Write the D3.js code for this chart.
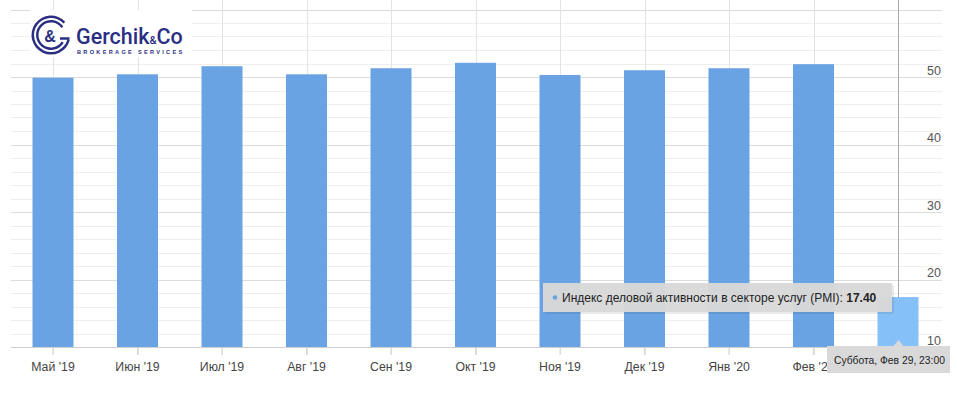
<!DOCTYPE html>
<html>
<head>
<meta charset="utf-8">
<script src="https://d3js.org/d3.v7.min.js"></script>
<style>
  body { margin: 0; background: #fff; }
  svg { display: block; font-family: "Liberation Sans", Arial, Helvetica, sans-serif; }
</style>
</head>
<body>
<svg id="chart" width="957" height="394"></svg>
<script>
// data
const months = ["Май '19", "Июн '19", "Июл '19", "Авг '19", "Сен '19", "Окт '19",
                "Ноя '19", "Дек '19", "Янв '20", "Фев '20", "Мар '20"];
const monthLabels = ["Май '19", "Июн '19", "Июл '19", "Авг '19", "Сен '19", "Окт '19",
                     "Ноя '19", "Дек '19", "Янв '20", "Фев '20", ""];
const pmi = [49.9, 50.4, 51.6, 50.4, 51.3, 52.1, 50.3, 51.0, 51.3, 51.9, 17.4];
const yTicks = [10, 20, 30, 40, 50];
const seriesName = "Индекс деловой активности в секторе услуг (PMI)";
const hoverDate = "Суббота, Фев 29, 23:00";

const svg = d3.select("#chart");
const plotLeft = 10.75, plotRight = 940.25, plotTop = 9.5, plotBottom = 347;

const x = d3.scaleBand().domain(months).range([plotLeft, plotRight])
  .paddingInner(0.515).paddingOuter(0.2575);
const y = d3.scaleLinear().domain([10, 60]).range([plotBottom, plotTop]);

// horizontal grid: minor every 2, major every 10
const minor = d3.range(12, 61, 2).filter(v => v % 10 !== 0);
svg.append("g").selectAll("line").data(minor).join("line")
  .attr("x1", plotLeft).attr("x2", 942)
  .attr("y1", d => Math.round(y(d)) + 0.5).attr("y2", d => Math.round(y(d)) + 0.5)
  .attr("stroke", "#eeeeee");
svg.append("g").selectAll("line").data([20, 30, 40, 50, 60]).join("line")
  .attr("x1", plotLeft).attr("x2", 942)
  .attr("y1", d => Math.round(y(d)) + 0.5).attr("y2", d => Math.round(y(d)) + 0.5)
  .attr("stroke", "#dcdcdc");

// vertical grid at each month
svg.append("g").selectAll("line").data(months.slice(0, -1)).join("line")
  .attr("x1", d => Math.round(x(d) + x.bandwidth() / 2) + 0.5)
  .attr("x2", d => Math.round(x(d) + x.bandwidth() / 2) + 0.5)
  .attr("y1", 0).attr("y2", plotBottom + 8)
  .attr("stroke", "#e3e3e3");

// logo background
svg.append("rect").attr("x", 30).attr("y", 10).attr("width", 162).attr("height", 47).attr("fill", "#fff");

// bars
svg.append("g").selectAll("rect").data(pmi).join("rect")
  .attr("x", (d, i) => x(months[i]))
  .attr("width", x.bandwidth())
  .attr("y", d => y(d))
  .attr("height", d => plotBottom - y(d))
  .attr("fill", (d, i) => i === pmi.length - 1 ? "#86c0f8" : "#6aa3e3");

// x axis
const xAxis = svg.append("g").attr("transform", `translate(0,${plotBottom})`)
  .call(d3.axisBottom(x).tickSize(8).tickSizeOuter(0).tickFormat((d, i) => monthLabels[i]));
xAxis.select(".domain").remove();
xAxis.selectAll(".tick line").attr("stroke", "#d6d6d6");
xAxis.selectAll(".tick text").attr("fill", "#444").style("font-size", "12.3px").attr("dy", "1.05em");
svg.append("line").attr("x1", plotLeft).attr("x2", 942)
  .attr("y1", plotBottom + 0.5).attr("y2", plotBottom + 0.5).attr("stroke", "#cfcfcf");

// y axis labels on the right, above their lines
svg.append("g").selectAll("text").data(yTicks).join("text")
  .attr("x", 941).attr("y", d => y(d) - 2.5)
  .attr("text-anchor", "end").attr("fill", "#555").style("font-size", "12.5px")
  .text(d => d);

// crosshair on hovered bar
const last = months[months.length - 1];
const cx = Math.round(x(last) + x.bandwidth() / 2) + 0.5;
svg.append("line").attr("x1", cx).attr("x2", cx).attr("y1", 0).attr("y2", y(pmi[pmi.length - 1]))
  .attr("stroke", "#a8a8a8");

// series tooltip
const tip = svg.append("g");
tip.append("rect").attr("x", 545).attr("y", 285).attr("width", 349).attr("height", 29)
  .attr("fill", "rgba(0,0,0,0.08)");
tip.append("rect").attr("x", 543).attr("y", 283).attr("width", 349).attr("height", 29)
  .attr("fill", "#d9d9d9").attr("fill-opacity", 0.96);
tip.append("circle").attr("cx", 555).attr("cy", 297.5).attr("r", 2.3).attr("fill", "#6aa3e3");
const t1 = tip.append("text").attr("x", 562).attr("y", 302).attr("fill", "#222").style("font-size", "12px");
t1.append("tspan").text(seriesName + ": ");
t1.append("tspan").attr("font-weight", "bold").text(pmi[pmi.length - 1].toFixed(2));

// date tooltip
const dt = svg.append("g");
dt.append("path").attr("d", `M${cx - 5},346 L${cx},340 L${cx + 5},346 Z`).attr("fill", "#d9d9d9");
dt.append("rect").attr("x", 827).attr("y", 346).attr("width", 123).attr("height", 27).attr("fill", "#d9d9d9");
dt.append("text").attr("x", 834).attr("y", 364).attr("fill", "#222").style("font-size", "10.3px")
  .text(hoverDate);

// logo
const navy = "#2b2f82";
const logo = svg.append("g");
const arc = d3.arc();
const h = Math.PI / 2;
logo.append("path").attr("transform", "translate(51,35)")
  .attr("d", arc({innerRadius: 17, outerRadius: 19.5, startAngle: h + 0.25, endAngle: 2 * Math.PI + h - 0.75}))
  .attr("fill", navy);
logo.append("path").attr("transform", "translate(51,35)")
  .attr("d", arc({innerRadius: 12.5, outerRadius: 15, startAngle: h + 0.55, endAngle: 2 * Math.PI + h - 0.6}))
  .attr("fill", navy);
logo.append("path").attr("d", "M60,38.5 L69.5,38.5").attr("fill", "none")
  .attr("stroke", navy).attr("stroke-width", 2.5);
logo.append("text").attr("x", 50).attr("y", 41.5).attr("text-anchor", "middle")
  .attr("fill", navy).style("font-size", "16px").style("font-weight", "bold").text("&");
const lt = logo.append("text").attr("x", 76).attr("y", 44).attr("fill", navy)
  .style("font-family", "Roboto, 'Liberation Sans', sans-serif").style("font-weight", "500");
lt.append("tspan").style("font-size", "21.5px").text("Gerchik");
lt.append("tspan").style("font-size", "11px").text("&");
lt.append("tspan").style("font-size", "21.5px").text("Co");
logo.append("text").attr("x", 77).attr("y", 53.5).attr("fill", navy)
  .style("font-size", "5.6px").style("font-weight", "bold").style("letter-spacing", "2.3px")
  .text("BROKERAGE SERVICES");
</script>
</body>
</html>
